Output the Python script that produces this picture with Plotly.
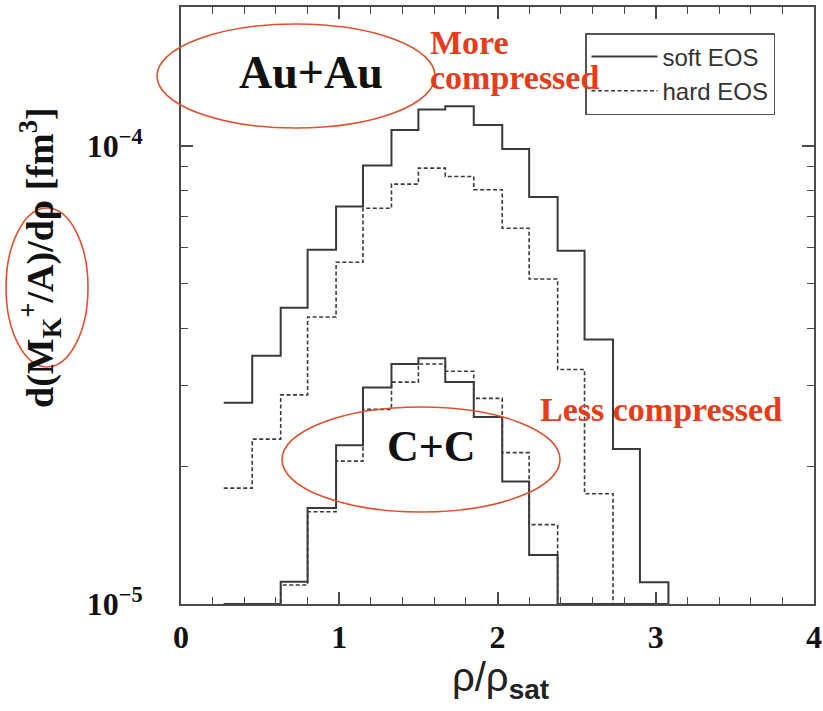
import plotly.graph_objects as go

# Bin edges in rho/rho_sat (16 bins)
bin_edges = [0.27, 0.45, 0.63, 0.80, 0.98, 1.15, 1.33, 1.50, 1.67,
             1.85, 2.03, 2.20, 2.38, 2.55, 2.73, 2.90, 3.08]

# d(M_K+/A)/drho [fm^3]; None = below the lower edge of the plot
au_soft = [2.75e-5, 3.48e-5, 4.43e-5, 5.93e-5, 7.37e-5, 9.06e-5, 1.083e-4, 1.20e-4,
           1.22e-4, 1.11e-4, 9.84e-5, 7.73e-5, 5.9e-5, 3.78e-5, 2.18e-5, 1.115e-5]
au_hard = [1.79e-5, 2.29e-5, 2.86e-5, 4.23e-5, 5.57e-5, 7.31e-5, 8.25e-5, 8.94e-5,
           8.57e-5, 8.02e-5, 6.61e-5, 5.12e-5, 3.25e-5, 1.74e-5, None, None]
cc_soft = [None, None, 1.118e-5, 1.62e-5, 2.22e-5, 2.97e-5, 3.34e-5, 3.44e-5,
           3.05e-5, 2.56e-5, 1.85e-5, 1.28e-5, None, None, None, None]
cc_hard = [None, None, 1.10e-5, 1.59e-5, 2.05e-5, 2.66e-5, 3.05e-5, 3.34e-5,
           3.22e-5, 2.81e-5, 2.14e-5, 1.49e-5, None, None, None, None]

x_ticks = [0, 1, 2, 3, 4]
y_tickvals = [1e-5, 1e-4]
y_ticktext = ["10<sup>\u22125</sup>", "10<sup>\u22124</sup>"]
y_minor = [2e-5, 3e-5, 4e-5, 5e-5, 6e-5, 7e-5, 8e-5, 9e-5]

X_RANGE = [0, 4]
Y_LOG_RANGE = [-5, -3.697]
FLOOR = 10 ** Y_LOG_RANGE[0]

SERIF = "Liberation Serif"
SANS = "Liberation Sans"
RED = "#e63c1a"
ELLIPSE = "#e0502c"
LINE = "#3a3a3a"
FRAME = "#4a4a4a"

# plot-area margins in px
M_L, M_R, M_T, M_B = 181, 9, 7, 107
W, H = 823, 711
PW, PH = W - M_L - M_R, H - M_T - M_B


def px(x):
    """page x (px) -> paper fraction"""
    return (x - M_L) / PW


def py(y):
    """page y (px, from top) -> paper fraction"""
    return (H - M_B - y) / PH


def step_path(values):
    """Histogram outline: one point per bin edge, dropping to the floor at the end."""
    ys = [FLOOR if v is None else v for v in values]
    return bin_edges, ys + [FLOOR]


fig = go.Figure()

series = [
    (au_hard, "hard EOS", "4px,2.5px", 1.6, True),
    (cc_hard, "hard EOS", "4px,2.5px", 1.6, False),
    (au_soft, "soft EOS", "solid", 2.0, True),
    (cc_soft, "soft EOS", "solid", 2.0, False),
]
for vals, name, dash, width, show in series:
    xs, ys = step_path(vals)
    fig.add_trace(go.Scatter(
        x=xs, y=ys, mode="lines", name=name, legendgroup=name,
        showlegend=show, line=dict(shape="hv", color=LINE, width=width, dash=dash),
        hoverinfo="skip",
    ))

# empty trace that carries the top / right tick axes
fig.add_trace(go.Scatter(x=[], y=[], xaxis="x2", yaxis="y2", showlegend=False, hoverinfo="skip"))

tick_common = dict(ticks="inside", tickwidth=1.5, tickcolor=FRAME, showgrid=False,
                   zeroline=False, automargin=False)
x_minor = dict(dtick=0.2, ticks="inside", ticklen=7, tickwidth=1.2, tickcolor=FRAME, showgrid=False)
y_minor_d = dict(tickvals=y_minor, ticks="inside", ticklen=7, tickwidth=1.2, tickcolor=FRAME, showgrid=False)

fig.update_layout(
    xaxis=dict(
        range=X_RANGE, tickvals=x_ticks, ticklen=12, **tick_common,
        showline=True, linecolor=FRAME, linewidth=2, mirror=True,
        minor=x_minor,
        tickfont=dict(family=SERIF, size=32, color="#111", weight="bold"),
        ticklabelstandoff=4, ticklabeloverflow="allow",
    ),
    yaxis=dict(
        type="log", range=Y_LOG_RANGE, tickvals=y_tickvals, ticktext=y_ticktext,
        ticklen=12, **tick_common,
        showline=True, linecolor=FRAME, linewidth=2, mirror=True,
        minor=y_minor_d,
        tickfont=dict(family=SERIF, size=32, color="#111", weight="bold"),
        ticklabelstandoff=30,
    ),
    xaxis2=dict(
        overlaying="x", side="top", anchor="y", range=X_RANGE, tickvals=x_ticks,
        ticklen=12, **tick_common, minor=x_minor, showticklabels=False, showline=False,
    ),
    yaxis2=dict(
        overlaying="y", side="right", anchor="x", type="log", range=Y_LOG_RANGE,
        tickvals=y_tickvals, ticklen=12, **tick_common, minor=y_minor_d,
        showticklabels=False, showline=False,
    ),
)

# hand-drawn style ellipses (page pixel boxes: left, top, right, bottom)
ellipses = [
    (157, 24, 435, 128),
    (282, 407, 560, 512),
    (6, 208, 88, 367),
]
for l, t, r, b in ellipses:
    fig.add_shape(type="circle", xref="paper", yref="paper",
                  x0=px(l), y0=py(b), x1=px(r), y1=py(t),
                  line=dict(color=ELLIPSE, width=1.6), layer="above")

annots = [
    dict(text="<b>Au+Au</b>", x=px(311), y=py(72), font=dict(family=SERIF, size=46, color="#111")),
    dict(text="<b>C+C</b>", x=px(431), y=py(446), font=dict(family=SERIF, size=44, color="#111")),
    dict(text="<b>More</b>", x=px(428), y=py(42), xanchor="left",
         font=dict(family=SERIF, size=34, color=RED)),
    dict(text="<b>compressed</b>", x=px(428), y=py(77), xanchor="left",
         font=dict(family=SERIF, size=34, color=RED)),
    dict(text="<b>Less compressed</b>", x=px(538), y=py(409), xanchor="left",
         font=dict(family=SERIF, size=34, color=RED)),
    dict(text="<b>d(M<sub>K</sub><sup>+</sup>/A)/d\u03c1 [fm<sup>3</sup>]</b>", x=px(40), y=py(258),
         textangle=-90, font=dict(family=SERIF, size=38, color="#111")),
    dict(text="\u03c1/\u03c1<sub><b>sat</b></sub>", x=px(500), y=py(680),
         font=dict(family=SANS, size=40, color="#222")),
]
for a in annots:
    a.setdefault("xanchor", "center")
    fig.add_annotation(xref="paper", yref="paper", showarrow=False, yanchor="middle", **a)

fig.update_layout(
    width=W, height=H,
    margin=dict(l=M_L, r=M_R, t=M_T, b=M_B, autoexpand=False),
    paper_bgcolor="white", plot_bgcolor="white",
    showlegend=True,
    legend=dict(
        x=px(585), y=py(33), xanchor="left", yanchor="top",
        bgcolor="white", bordercolor="#555", borderwidth=1.5,
        font=dict(family=SANS, size=24, color="#333"),
        itemwidth=66, traceorder="reversed",
    ),
)

fig.write_html("out.html")
